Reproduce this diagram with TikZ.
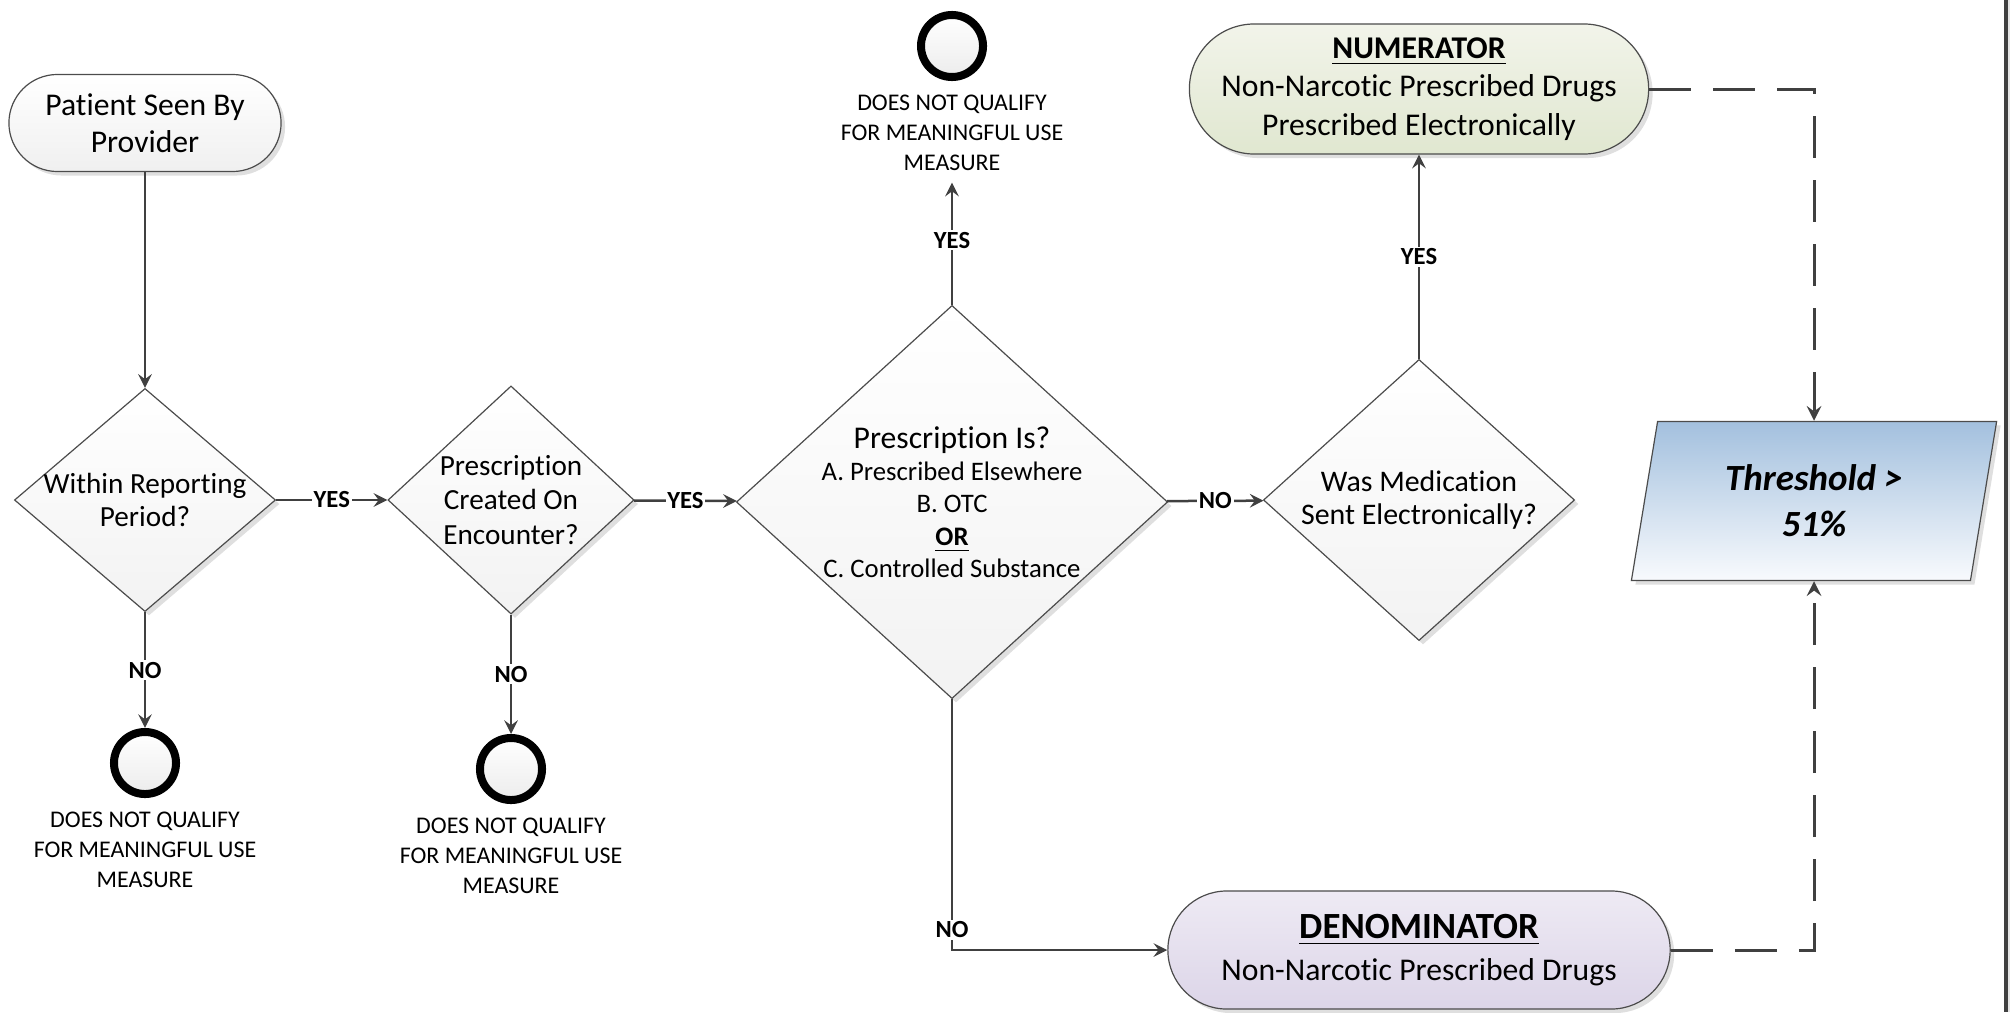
\documentclass[tikz,border=0pt]{standalone}
\usepackage{fontspec}
\setmainfont{Carlito}[Ligatures={NoCommon,NoContextual}]
\usepackage{tikz}
\usetikzlibrary{shapes.geometric}
\usetikzlibrary{positioning}
\usetikzlibrary{shadows}
\usetikzlibrary{arrows}
\definecolor{linegray}{HTML}{404040}
\definecolor{numtop}{HTML}{F2F4EA}
\definecolor{numbot}{HTML}{E0E7D0}
\definecolor{dentop}{HTML}{EEEAF4}
\definecolor{denbot}{HTML}{DCD5E8}
\definecolor{thrtop}{HTML}{A3C0DE}
\definecolor{thrbot}{HTML}{F8FAFD}
\tikzset{	>=stealth,
	every shadow/.style={opacity=0.25, shadow xshift=0.04cm, shadow yshift=-0.04cm},
	terminal/.style={
		rectangle, draw=gray!60!black, line width=0.012cm,
		top color=white, bottom color=gray!12,
		drop shadow, align=center, inner sep=0pt},
	decision/.style={
		diamond, draw=gray!60!black, line width=0.012cm,
		top color=white, bottom color=gray!10,
		drop shadow, inner sep=0pt},
	stop/.style={
		circle, draw=black, line width=0.08cm,
		minimum size=0.62cm, inner sep=0pt,
		top color=white, bottom color=gray!15},
	note/.style={align=center, font=\fontsize{6.8}{8.4}\selectfont},
	ask/.style={align=center, font=\fontsize{8.3}{9.3}\selectfont},
	flow/.style={draw=linegray, line width=0.025cm, ->},
	answer/.style={fill=white, inner sep=0.5pt, font=\bfseries\fontsize{7}{8}\selectfont},
	link/.style={draw=linegray, line width=0.03cm, dash pattern=on 0.42cm off 0.22cm, ->}
}
\begin{document}
\begin{tikzpicture}[x=0.01cm, y=-0.01cm]
	\useasboundingbox (0,0) rectangle (2010,1012);
	% process
	\node[terminal, rounded corners=0.485cm, minimum width=2.72cm, minimum height=0.97cm,
		font=\fontsize{9}{10.5}\selectfont] (start) at (145,123) {Patient Seen By\\Provider};
	\node[decision, minimum width=2.61cm, minimum height=2.23cm,
		label={[ask]center:Within Reporting\\Period?}] (period) at (145,500) {};
	\node[decision, minimum width=2.46cm, minimum height=2.28cm,
		label={[ask, font=\fontsize{8.3}{9.7}\selectfont]center:Prescription\\Created On\\Encounter?}] (created) at (511,500) {};
	\node[decision, minimum width=4.31cm, minimum height=3.93cm,
		label={[ask, font=\fontsize{7.6}{9.2}\selectfont]center:{\fontsize{9}{9.2}\selectfont Prescription Is?}\\A. Prescribed Elsewhere\\B. OTC\\\textbf{\underline{OR}}\\C. Controlled Substance}] (kind) at (952,502) {};
	\node[decision, minimum width=3.11cm, minimum height=2.81cm,
		label={[ask, font=\fontsize{8.5}{9.2}\selectfont]center:Was Medication\\Sent Electronically?}] (sent) at (1419,500) {};
	% results
	\node[terminal, rounded corners=0.65cm, minimum width=4.59cm, minimum height=1.30cm,
		top color=numtop, bottom color=numbot, font=\fontsize{9}{11}\selectfont] (numerator) at (1419,89)
		{\textbf{\underline{NUMERATOR}}\\Non-Narcotic Prescribed Drugs\\Prescribed Electronically};
	\node[terminal, rounded corners=0.59cm, minimum width=5.02cm, minimum height=1.18cm,
		top color=dentop, bottom color=denbot, font=\fontsize{9}{12}\selectfont] (denominator) at (1419,950)
		{{\fontsize{10.5}{12}\selectfont\textbf{\underline{DENOMINATOR}}}\\Non-Narcotic Prescribed Drugs};
	\node[trapezium, trapezium left angle=70, trapezium right angle=110, trapezium stretches body,
		minimum width=3.65cm, minimum height=1.59cm, draw=gray!60!black, line width=0.012cm,
		top color=thrtop, bottom color=thrbot, drop shadow, inner sep=0pt, align=center,
		font=\bfseries\itshape\fontsize{10.5}{13}\selectfont] (threshold) at (1814,501) {Threshold >\\51\%};
	% ends
	\node[stop] (stop1) at (145,763) {};
	\node[note, below=0.02cm of stop1] (note1) {DOES NOT QUALIFY\\FOR MEANINGFUL USE\\MEASURE};
	\node[stop] (stop2) at (511,769) {};
	\node[note, below=0.02cm of stop2] (note2) {DOES NOT QUALIFY\\FOR MEANINGFUL USE\\MEASURE};
	\node[stop] (stop3) at (952,46) {};
	\node[note, below=0.02cm of stop3] (note3) {DOES NOT QUALIFY\\FOR MEANINGFUL USE\\MEASURE};
	% connectors
	\draw[flow] (start) -- (period);
	\draw[flow] (period) -- node[answer] {YES} (created);
	\draw[flow] (period) -- node[answer] {NO} (stop1);
	\draw[flow] (created) -- node[answer] {YES} (kind);
	\draw[flow] (created) -- node[answer] {NO} (stop2);
	\draw[flow] (kind) -- node[answer, pos=0.53] {YES} (note3);
	\draw[flow] (kind) -- node[answer] {NO} (sent);
	\draw[flow] (kind) |- node[answer, pos=0.46] {NO} (denominator);
	\draw[flow] (sent) -- node[answer] {YES} (numerator);
	\draw[link] (numerator) -| (threshold);
	\draw[link] (denominator) -| (threshold);
	% frame edge
	\fill[gray!20] (2007.5,0) rectangle (2010,1012);
	\draw[linegray, line width=0.04cm] (2005.5,0) -- (2005.5,1012);
\end{tikzpicture}
\end{document}
